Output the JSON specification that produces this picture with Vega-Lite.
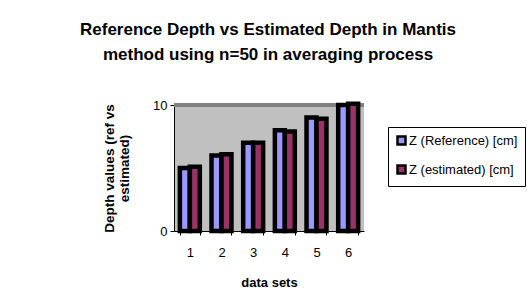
{
  "$schema": "https://vega.github.io/schema/vega-lite/v6.json",
  "autosize": {"type": "none"},
  "width": 190,
  "height": 126,
  "padding": {"left": 174, "top": 105, "right": 163, "bottom": 61},
  "background": "white",
  "config": {
    "font": "Liberation Sans",
    "view": {"fill": "#C0C0C0", "stroke": null}
  },
  "title": {
    "text": ["Reference Depth vs Estimated Depth in Mantis", "method using n=50 in averaging process"],
    "fontSize": 17,
    "fontWeight": "bold",
    "font": "Liberation Sans",
    "color": "black",
    "lineHeight": 25,
    "anchor": "middle",
    "dx": -1,
    "offset": 35
  },
  "data": {
    "values": [
      {"set": "1", "series": "Z (Reference) [cm]", "value": 5.0},
      {"set": "1", "series": "Z (estimated) [cm]", "value": 5.1},
      {"set": "2", "series": "Z (Reference) [cm]", "value": 6.0},
      {"set": "2", "series": "Z (estimated) [cm]", "value": 6.1},
      {"set": "3", "series": "Z (Reference) [cm]", "value": 7.0},
      {"set": "3", "series": "Z (estimated) [cm]", "value": 7.0},
      {"set": "4", "series": "Z (Reference) [cm]", "value": 8.0},
      {"set": "4", "series": "Z (estimated) [cm]", "value": 7.9},
      {"set": "5", "series": "Z (Reference) [cm]", "value": 9.0},
      {"set": "5", "series": "Z (estimated) [cm]", "value": 8.9},
      {"set": "6", "series": "Z (Reference) [cm]", "value": 10.0},
      {"set": "6", "series": "Z (estimated) [cm]", "value": 10.1}
    ]
  },
  "layer": [
    {
      "mark": {"type": "rule", "color": "#808080", "strokeWidth": 3},
      "encoding": {"y": {"datum": 10}}
    },
    {
      "mark": {"type": "bar", "stroke": "black", "strokeWidth": 4.5},
      "encoding": {
        "x": {
          "field": "set", "type": "nominal",
          "scale": {"paddingInner": 0.37, "paddingOuter": 0.185},
          "axis": {
            "title": "data sets", "titleFontSize": 13, "titleFontWeight": "bold", "titleColor": "black", "titlePadding": 17,
            "labelAngle": 0, "labelFontSize": 13, "labelColor": "black", "labelPadding": 11,
            "tickBand": "extent", "tickColor": "black", "tickSize": 4, "domainColor": "black", "grid": false
          }
        },
        "xOffset": {"field": "series", "type": "nominal", "sort": ["Z (Reference) [cm]", "Z (estimated) [cm]"], "scale": {"paddingInner": 0}},
        "y": {
          "field": "value", "type": "quantitative",
          "scale": {"domain": [0, 10]},
          "axis": {
            "title": ["Depth values (ref vs", "estimated)"], "titleFontSize": 13.5, "titleFontWeight": "bold", "titleColor": "black", "titlePadding": 21, "titleLineHeight": 15,
            "values": [0, 10], "labelFontSize": 13, "labelColor": "black", "labelPadding": 3,
            "tickColor": "black", "tickSize": 4, "domainColor": "black", "grid": false
          }
        },
        "fill": {
          "field": "series", "type": "nominal",
          "sort": ["Z (Reference) [cm]", "Z (estimated) [cm]"],
          "scale": {"range": ["#9999FF", "#993366"]},
          "legend": {
            "title": null, "orient": "none", "legendX": 214, "legendY": 22,
            "strokeColor": "black", "fillColor": "white", "padding": 7,
            "symbolType": "square", "symbolSize": 64, "symbolStrokeColor": "black", "symbolStrokeWidth": 2.5,
            "labelFontSize": 13, "labelColor": "black", "rowPadding": 10, "labelLimit": 200, "symbolOffset": 0, "labelOffset": 1
          }
        }
      }
    }
  ]
}
